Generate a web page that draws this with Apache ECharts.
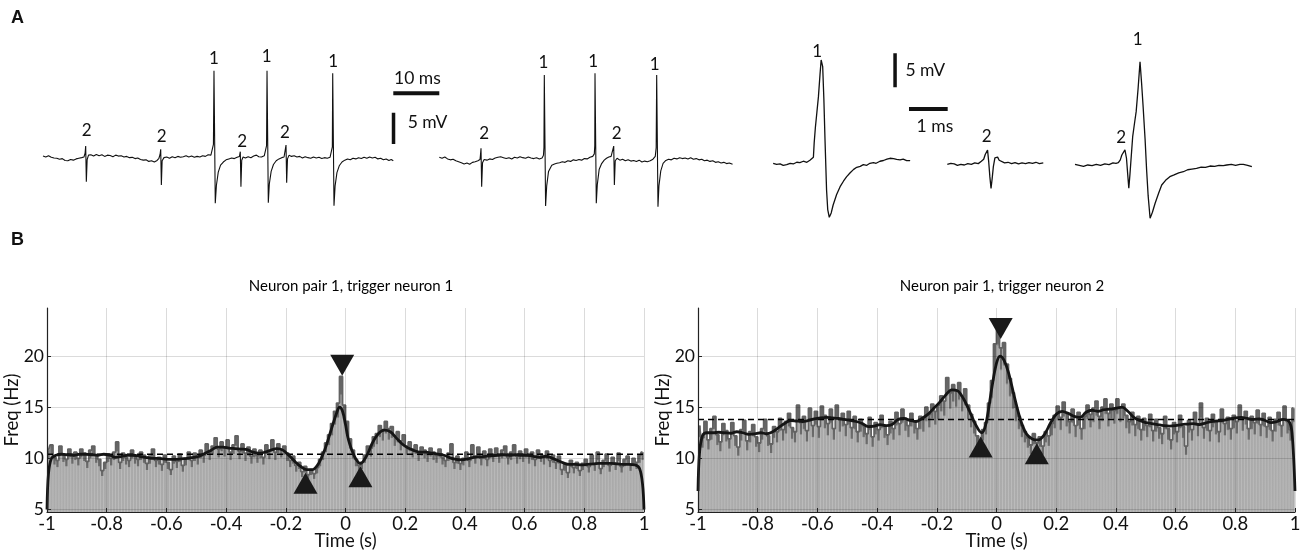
<!DOCTYPE html>
<html><head><meta charset="utf-8">
<script src="https://cdn.jsdelivr.net/npm/echarts@6/dist/echarts.min.js"></script>
<style>html,body{margin:0;padding:0;background:#fff}#c{width:1300px;height:558px}</style>
</head><body><div id="c"></div>
<script>
// ---------- Panel A: raw trace (time ms, voltage mV) ----------
const trace1 = [[0.0,0.15],[0.6,0.0],[1.2,0.2],[1.8,-0.05],[2.4,-0.15],[3.0,-0.2],[3.6,-0.35],[4.2,-0.25],[4.8,-0.55],[5.4,-0.6],[6.0,-0.4],[6.6,-0.5],[7.2,-0.3],[7.8,-0.2],[8.4,-0.1],[8.9,0.0],
[9.15,0.6],[9.28,1.75],[9.42,-3.94],[9.6,-0.4],[9.9,0.3],
[10.4,0.35],[11.0,0.15],[11.6,0.4],[12.2,0.2],[12.8,0.35],[13.4,0.1],[14.0,0.3],[14.6,0.25],[15.2,0.05],[15.8,0.3],[16.4,0.15],[17.0,0.2],[17.6,0.0],[18.2,0.1],[18.8,-0.1],[19.4,-0.05],[20.0,-0.25],[20.6,-0.15],[21.2,-0.4],[21.8,-0.5],[22.4,-0.45],[23.0,-0.7],[23.6,-0.6],[24.2,-0.8],[24.8,-0.55],[25.2,-0.2],
[25.45,0.4],[25.59,1.23],[25.73,-4.47],[25.9,-0.6],[26.3,-0.1],
[26.9,0.0],[27.5,-0.2],[28.1,0.05],[28.7,-0.1],[29.3,0.1],[29.9,-0.05],[30.5,0.05],[31.1,0.2],[31.7,0.0],[32.3,0.15],[32.9,-0.05],[33.5,0.1],[34.1,0.0],[34.7,0.2],[35.3,0.1],[35.9,0.35],[36.5,0.3],[36.9,0.5],
[37.05,2.0],[37.17,13.76],[37.45,-7.38],[37.7,-4.5],[38.1,-2.4],[38.6,-1.3],[39.2,-0.8],[39.8,-0.45],[40.4,-0.3],[41.0,-0.15],[41.6,-0.25],[42.2,-0.05],[42.7,0.1],
[42.89,0.85],[43.03,-4.74],[43.2,-0.5],[43.5,0.0],
[44.0,-0.15],[44.6,0.05],[45.2,-0.1],[45.8,0.15],[46.4,0.3],[46.9,0.05],[47.5,0.0],[48.1,0.2],[48.5,0.4],
[48.6,1.8],[48.7,13.76],[48.98,-7.29],[49.2,-4.3],[49.6,-2.3],[50.1,-1.2],[50.7,-0.6],[51.3,-0.3],[51.9,-0.1],[52.4,0.0],[52.7,0.3],
[52.83,1.91],[52.97,-4.1],[53.15,-0.3],[53.5,0.3],
[54.0,0.1],[54.6,0.2],[55.2,0.0],[55.8,0.1],[56.4,-0.15],[57.0,0.05],[57.6,-0.1],[58.2,-0.2],[58.8,0.0],[59.4,-0.15],[60.0,-0.05],[60.6,-0.25],[61.2,-0.1],[61.8,-0.2],[62.4,-0.05],[62.8,0.2],
[62.9,1.6],[62.98,13.35],[63.26,-7.77],[63.5,-4.6],[63.9,-2.5],[64.4,-1.4],[65.0,-0.8],[65.6,-0.5],[66.2,-0.3],[66.8,-0.45],[67.4,-0.2],[68.0,-0.3],[68.6,-0.1],[69.2,-0.25],[69.8,-0.05],[70.4,-0.2],[71.0,0.0],[71.6,-0.15],[72.2,-0.05],[72.8,-0.3],[73.4,-0.2],[74.0,-0.45],[74.6,-0.3],[75.2,-0.55],[75.7,-0.4],[76.15,-0.6]];

const trace2 = [[86.15,-0.05],[86.75,-0.2],[87.35,0.0],[87.95,-0.3],[88.55,-0.45],[89.15,-0.35],[89.75,-0.6],[90.35,-0.75],[90.95,-0.9],[91.55,-1.1],[92.15,-0.95],[92.75,-1.15],[93.35,-0.85],[93.95,-0.75],[94.55,-0.6],[95.0,-0.4],
[95.1,0.3],[95.22,1.39],[95.36,-4.74],[95.55,-0.9],[95.9,-0.4],
[96.5,-0.5],[97.1,-0.3],[97.7,-0.4],[98.3,-0.15],[98.9,-0.05],[99.5,0.05],[100.1,-0.1],[100.7,-0.25],[101.3,-0.1],[101.9,-0.3],[102.5,-0.05],[103.1,-0.15],[103.7,0.05],[104.3,-0.1],[104.9,-0.2],[105.5,0.0],[106.1,-0.15],[106.7,-0.25],[107.3,-0.1],[107.9,-0.3],[108.5,-0.15],[108.8,0.3],
[108.9,1.5],[108.98,13.08],[109.26,-7.81],[109.5,-4.6],[109.9,-2.3],[110.6,-1.3],[111.2,-1.1],[111.7,-1.0],[112.3,-0.9],[112.9,-0.75],[113.5,-0.85],[114.1,-0.6],[114.7,-0.7],[115.3,-0.45],[115.9,-0.55],[116.5,-0.4],[117.1,-0.5],[117.7,-0.25],[118.3,-0.3],[118.9,-0.05],[119.5,0.1],[119.85,0.5],
[119.95,1.8],[120.0,13.35],[120.28,-7.38],[120.5,-4.4],[120.9,-2.0],[121.4,-1.1],[122.0,-0.5],[122.5,-0.2],[123.0,0.0],[123.5,0.1],[123.9,0.3],
[124.07,1.75],[124.21,-4.47],[124.4,-0.6],[124.8,-0.2],
[125.4,-0.5],[126.0,-0.35],[126.6,-0.6],[127.2,-0.45],[127.8,-0.65],[128.4,-0.55],[129.0,-0.7],[129.6,-0.5],[130.2,-0.8],[130.8,-0.65],[131.4,-0.75],[132.0,-0.6],[132.6,-0.35],[133.1,0.1],
[133.3,1.5],[133.41,13.08],[133.69,-7.93],[133.9,-4.6],[134.3,-2.2],[134.8,-1.0],[135.4,-0.55],[136.0,-0.35],[136.6,-0.45],[137.2,-0.2],[137.8,-0.3],[138.4,-0.1],[139.0,-0.25],[139.6,-0.15],[140.2,-0.3],[140.8,-0.1],[141.4,-0.35],[142.0,-0.25],[142.6,-0.45],[143.2,-0.35],[143.8,-0.6],[144.4,-0.5],[145.0,-0.7],[145.6,-0.6],[146.2,-0.85],[146.8,-0.75],[147.4,-0.95],[148.0,-0.85],[148.6,-1.05],[149.2,-0.95],[149.9,-1.15]];

const traceLabels = [[9.5,4.19,'2'],[25.8,3.35,'2'],[37.17,15.74,'1'],[43.3,2.44,'2'],[48.6,16.1,'1'],[52.6,3.88,'2'],[63.1,15.2,'1'],
[95.9,3.78,'2'],[108.8,15.04,'1'],[119.6,15.2,'1'],[124.7,3.78,'2'],[133.0,14.83,'1']];
const traceTimeBar = [[76.15,10.16],[86.15,10.16]];   // 10 ms
const traceVoltBar = [[76.2,2.07],[76.2,7.07]];       // 5 mV
const traceBarText = [[81.4,12.5,'10 ms'],[83.6,5.47,'5 mV']];

// ---------- Panel A: spike waveforms (time ms, voltage mV) ----------
const wave1 = [[0.34,0.0],[0.43,-0.15],[0.52,-0.1],[0.6,-0.3],[0.69,-0.2],[0.78,0.0],[0.86,-0.1],[0.95,0.15],[1.03,0.1],[1.12,0.3],[1.21,0.15],[1.29,0.45],[1.34,0.6],[1.38,0.9],[1.4,3.0],[1.43,5.2],[1.47,7.5],[1.51,9.8],[1.55,13.0],[1.58,15.19],[1.62,14.2],[1.65,9.5],[1.68,3.43],[1.72,-3.93],[1.75,-6.8],[1.79,-7.94],[1.84,-7.3],[1.89,-6.13],[1.98,-4.6],[2.07,-3.44],[2.16,-2.6],[2.24,-1.97],[2.33,-1.4],[2.42,-0.9],[2.5,-0.59],[2.59,-0.45],[2.67,-0.2],[2.76,-0.3],[2.84,0.0],[2.93,0.1],[3.0,0.0],[3.1,0.3],[3.19,0.41],[3.28,0.6],[3.36,0.74],[3.45,0.7],[3.53,0.56],[3.62,0.49],[3.7,0.6],[3.79,0.4],[3.88,0.38]];
const wave2 = [[4.84,-0.15],[4.93,0.0],[5.02,-0.1],[5.1,-0.3],[5.19,-0.15],[5.28,-0.25],[5.37,-0.05],[5.46,-0.15],[5.55,0.05],[5.64,-0.05],[5.72,0.3],[5.78,0.6],[5.82,1.3],[5.88,1.96],[5.91,0.2],[5.94,-2.0],[5.97,-3.68],[6.0,-2.2],[6.03,-0.5],[6.07,0.8],[6.1,1.07],[6.14,0.9],[6.18,0.45],[6.23,0.2],[6.32,0.05],[6.41,0.15],[6.5,-0.05],[6.59,0.1],[6.68,-0.1],[6.77,0.05],[6.86,-0.05],[6.95,0.1],[7.04,0.0],[7.13,0.15],[7.22,-0.05],[7.32,0.05]];
const wave3 = [[8.14,-0.15],[8.25,-0.3],[8.36,-0.45],[8.47,-0.25],[8.58,-0.35],[8.69,-0.15],[8.8,-0.3],[8.91,-0.1],[9.02,-0.2],[9.12,0.05],[9.2,0.0],[9.26,0.09],[9.31,0.5],[9.35,1.22],[9.39,1.1],[9.43,1.96],[9.47,0.74],[9.5,-1.5],[9.53,-3.68],[9.56,-1.6],[9.58,0.0],[9.63,3.91],[9.68,6.0],[9.72,7.59],[9.77,11.0],[9.82,14.94],[9.86,11.8],[9.9,8.32],[9.95,3.6],[9.99,-0.99],[10.03,-4.8],[10.08,-8.09],[10.14,-7.2],[10.21,-5.88],[10.3,-4.4],[10.38,-3.19],[10.48,-2.5],[10.59,-1.97],[10.7,-1.7],[10.82,-1.4],[10.94,-1.24],[11.05,-0.95],[11.16,-0.85],[11.28,-0.74],[11.4,-0.55],[11.51,-0.6],[11.63,-0.4],[11.75,-0.45],[11.86,-0.3],[11.97,-0.35],[12.06,-0.25],[12.18,-0.15],[12.29,-0.3],[12.4,-0.15],[12.49,-0.15],[12.6,-0.3],[12.71,-0.5]];
const waveLabels = [[1.48,16.41,'1'],[5.86,4.01,'2'],[9.33,3.82,'2'],[9.76,18.13,'1']];
const waveVoltBar = [[3.49,11.18],[3.49,16.18]];  // 5 mV
const waveTimeBar = [[3.85,7.99],[4.85,7.99]];    // 1 ms
const waveBarText = [[4.27,13.72,'5 mV'],[4.52,5.49,'1 ms']];

// ---------- Panel B: cross-correlograms (0.01 s bins from -1 to 1) ----------
const binStart = -1, binWidth = 0.01;
const countsLeft = [
10.8,11.3,10.1,9.8,11.2,10.4,9.9,10.9,10.2,10.6,
10.0,10.9,10.5,9.7,10.8,11.2,10.3,9.9,8.8,9.6,
10.4,10.0,10.6,11.6,9.6,10.5,10.1,9.8,10.8,10.2,
9.9,10.6,10.3,9.5,10.2,10.9,9.8,10.1,9.4,10.3,
9.6,8.9,10.2,9.7,10.4,9.3,10.0,10.6,9.8,10.5,
10.1,10.8,10.3,11.4,10.6,11.2,12.0,10.9,11.6,11.0,
11.8,10.6,11.3,12.2,10.7,11.4,10.5,11.1,10.2,10.9,
10.3,10.8,10.1,11.3,10.7,11.8,10.6,11.4,10.9,11.2,
10.5,9.8,10.2,9.3,9.6,8.7,9.2,8.4,8.9,8.5,
9.1,9.9,10.6,11.5,12.3,13.4,14.6,15.4,18.0,15.2,
13.6,11.9,10.8,9.9,9.3,9.6,10.3,11.2,11.0,12.1,
12.4,13.2,12.8,13.6,12.9,13.1,12.2,12.6,11.7,12.3,
11.2,11.6,10.9,11.3,10.5,11.1,10.8,10.4,11.0,10.6,
10.3,10.9,10.1,9.8,10.5,11.4,9.6,10.2,9.5,10.0,
10.6,9.8,11.3,10.2,11.1,10.0,10.7,9.9,10.9,10.4,
11.0,10.3,10.8,11.2,10.1,10.6,11.3,10.2,10.7,10.4,
10.9,10.2,10.6,9.9,10.8,10.4,10.1,10.7,9.8,10.3,
9.6,10.2,8.9,9.4,8.6,9.8,9.1,9.6,8.8,9.5,
9.9,9.2,10.3,9.4,10.6,9.0,9.8,10.4,9.3,10.1,
9.5,10.5,9.2,9.9,10.2,9.4,10.0,9.6,10.3,10.6];
const countsRight = [
13.2,12.0,13.6,11.8,12.9,14.1,12.3,11.6,13.4,12.7,
11.9,13.5,12.2,11.1,12.8,13.7,11.7,12.6,13.3,12.1,
11.5,12.9,13.8,12.2,11.4,13.1,12.6,13.9,12.8,13.6,
14.4,13.0,12.6,15.2,13.5,14.1,12.7,14.9,13.2,14.6,
13.1,15.1,14.2,13.4,14.8,12.9,15.2,13.8,14.4,13.3,
14.6,13.0,14.1,12.6,13.8,13.2,12.4,14.0,12.1,13.5,
12.8,14.2,13.1,12.3,13.6,12.9,14.5,13.4,14.8,13.9,
13.2,14.4,13.6,12.9,14.1,13.8,15.0,14.3,15.3,14.6,
15.2,16.1,15.6,17.9,16.4,17.2,16.6,17.4,16.1,16.8,
15.2,14.3,13.6,12.2,11.6,12.8,13.5,15.4,17.6,21.2,
23.6,20.8,21.3,19.2,17.8,16.4,15.0,14.1,13.2,12.6,
12.0,11.3,12.4,11.5,12.1,11.2,12.6,12.2,13.4,14.2,
15.1,14.0,15.5,14.4,13.6,14.8,13.2,14.5,12.9,14.1,
15.2,14.3,14.9,15.6,14.1,15.0,15.8,14.4,15.3,14.7,
15.8,14.9,15.3,14.2,13.6,14.5,13.3,14.1,12.8,13.9,
13.2,14.3,12.7,13.8,13.0,12.4,14.1,12.9,11.8,13.5,
12.6,14.2,13.1,11.2,13.7,12.8,14.5,13.3,15.4,13.0,
13.9,12.7,14.3,13.5,12.6,14.8,13.4,14.0,12.9,14.2,
13.6,15.2,13.9,14.6,12.9,14.1,13.5,14.7,13.3,14.4,
13.1,14.0,12.7,13.8,14.5,13.2,15.1,13.6,12.8,14.9];
const smoothLeft = [[-1,5.0],[-0.995,8.5],[-0.985,10.0],[-0.97,10.3],[-0.95,10.4],[-0.93,10.35],[-0.91,10.3],[-0.89,10.4],[-0.87,10.4],[-0.85,10.35],[-0.83,10.3],[-0.81,10.4],[-0.79,10.3],[-0.77,10.1],[-0.75,10.2],[-0.73,10.3],[-0.71,10.3],[-0.69,10.2],[-0.67,10.1],[-0.65,10.0],[-0.63,10.0],[-0.61,9.95],[-0.59,9.9],[-0.57,9.9],[-0.55,9.95],[-0.53,10.0],[-0.51,10.1],[-0.49,10.2],[-0.47,10.5],[-0.45,10.8],[-0.43,11.1],[-0.41,11.1],[-0.39,11.0],[-0.37,10.95],[-0.35,10.9],[-0.33,10.85],[-0.31,10.6],[-0.29,10.5],[-0.27,10.6],[-0.25,10.8],[-0.23,10.95],[-0.21,10.8],[-0.19,10.3],[-0.17,9.7],[-0.15,9.2],[-0.13,8.9],[-0.11,8.9],[-0.09,9.5],[-0.07,10.8],[-0.05,12.6],[-0.03,14.4],[-0.02,15.0],[-0.01,14.6],[0.0,13.3],[0.01,11.8],[0.03,10.2],[0.05,9.5],[0.07,10.2],[0.09,11.5],[0.11,12.4],[0.13,12.75],[0.15,12.6],[0.17,12.0],[0.19,11.4],[0.21,11.0],[0.23,10.75],[0.25,10.6],[0.27,10.6],[0.29,10.5],[0.31,10.4],[0.33,10.3],[0.35,10.05],[0.37,9.9],[0.39,9.85],[0.41,9.95],[0.43,10.1],[0.45,10.15],[0.47,10.2],[0.49,10.25],[0.51,10.3],[0.53,10.35],[0.55,10.3],[0.57,10.35],[0.59,10.3],[0.61,10.3],[0.63,10.2],[0.65,10.1],[0.67,10.2],[0.69,10.05],[0.71,9.8],[0.73,9.55],[0.75,9.4],[0.77,9.4],[0.79,9.35],[0.81,9.4],[0.83,9.45],[0.85,9.5],[0.87,9.5],[0.89,9.5],[0.91,9.45],[0.93,9.4],[0.95,9.4],[0.97,9.35],[0.985,9.0],[0.995,7.5],[1.0,5.0]];
const smoothRight = [[-1,6.8],[-0.995,10.5],[-0.985,12.2],[-0.97,12.5],[-0.95,12.5],[-0.93,12.55],[-0.91,12.5],[-0.89,12.45],[-0.87,12.6],[-0.85,12.5],[-0.83,12.35],[-0.81,12.4],[-0.79,12.5],[-0.77,12.4],[-0.75,12.6],[-0.73,13.0],[-0.71,13.4],[-0.69,13.7],[-0.67,13.65],[-0.65,13.6],[-0.63,13.7],[-0.61,13.85],[-0.59,13.95],[-0.57,14.0],[-0.55,13.95],[-0.53,13.9],[-0.51,13.8],[-0.49,13.7],[-0.47,13.6],[-0.45,13.4],[-0.43,13.1],[-0.41,13.15],[-0.39,13.3],[-0.37,13.2],[-0.35,13.3],[-0.33,13.8],[-0.31,13.9],[-0.29,13.7],[-0.27,13.6],[-0.25,13.9],[-0.23,14.3],[-0.21,14.9],[-0.19,15.5],[-0.17,16.2],[-0.15,16.7],[-0.13,16.6],[-0.11,15.8],[-0.09,14.6],[-0.07,13.3],[-0.05,12.5],[-0.04,12.9],[-0.03,14.2],[-0.015,17.0],[0.0,19.3],[0.012,20.0],[0.025,19.6],[0.04,18.4],[0.06,16.0],[0.08,13.8],[0.1,12.4],[0.12,11.9],[0.14,11.8],[0.16,12.3],[0.18,13.4],[0.2,14.3],[0.22,14.6],[0.24,14.4],[0.26,14.1],[0.28,14.0],[0.3,14.5],[0.32,14.7],[0.34,14.6],[0.36,14.75],[0.38,14.8],[0.4,14.9],[0.42,15.0],[0.44,14.6],[0.46,14.0],[0.48,13.7],[0.5,13.5],[0.52,13.4],[0.54,13.3],[0.56,13.2],[0.58,13.15],[0.6,13.2],[0.62,13.3],[0.64,13.35],[0.66,13.4],[0.68,13.3],[0.7,13.45],[0.72,13.6],[0.74,13.65],[0.76,13.7],[0.78,13.85],[0.8,13.95],[0.82,14.0],[0.84,13.9],[0.86,13.8],[0.88,13.85],[0.9,13.7],[0.92,13.5],[0.94,13.6],[0.96,13.8],[0.98,13.6],[0.99,12.5],[1.0,6.8]];
const meanLeft = 10.4, meanRight = 13.8;
const trianglesLeft = [[-0.011,19.1,'down'],[-0.134,7.56,'up'],[0.05,8.2,'up']];
const trianglesRight = [[0.014,22.7,'down'],[-0.053,11.1,'up'],[0.135,10.45,'up']];
const yTicks = [5,10,15,20];
const titles = ['Neuron pair 1, trigger neuron 1','Neuron pair 1, trigger neuron 2'];

// ---------- build ----------
const FONT = 'Lato';
const AX = 18.5;
const toBins = arr => arr.map((v,i)=>[+(binStart + binWidth*(i+0.5)).toFixed(3), v]);

function textSeries(data, xi, yi, size){
  return {type:'scatter', xAxisIndex:xi, yAxisIndex:yi, symbolSize:0, silent:true, z:20,
    itemStyle:{opacity:1},
    data:data.map(d=>({value:[d[0],d[1]], name:d[2]})),
    label:{show:true, position:'inside', formatter:'{b}', color:'#111', fontSize:size, fontFamily:FONT}};
}
function lineSeries(data, xi, yi, w){
  return {type:'line', xAxisIndex:xi, yAxisIndex:yi, data, symbol:'none', silent:true,
    lineStyle:{color:'#111', width:w}, z:10};
}
const barFill = {type:'linear', x:0, y:0, x2:0, y2:1, colorStops:[
  {offset:0, color:'#646464'}, {offset:0.125, color:'#6c6c6c'}, {offset:0.14, color:'#a9a9a9'}, {offset:1, color:'#acacac'}]};
function histSeries(counts, smooth, mean, tris, xi, yi){
  const bins = toBins(counts);
  return [
    {type:'line', xAxisIndex:xi, yAxisIndex:yi, step:'middle', data:bins, symbol:'none', silent:true,
      lineStyle:{width:0, opacity:0}, areaStyle:{color:'#c4c4c4', origin:'start', opacity:1}, z:1},
    {type:'bar', xAxisIndex:xi, yAxisIndex:yi, data:bins, barWidth:2.4, silent:true,
      itemStyle:{color:barFill}, z:2},
    {type:'line', xAxisIndex:xi, yAxisIndex:yi, step:'middle', data:bins, symbol:'none', silent:true,
      lineStyle:{color:'#626262', width:1.8}, z:3},
    {type:'line', xAxisIndex:xi, yAxisIndex:yi, data:[[-1,mean],[1,mean]], symbol:'none', silent:true,
      lineStyle:{color:'#000', width:1.5, type:[6,4]}, z:4},
    {type:'line', xAxisIndex:xi, yAxisIndex:yi, data:smooth, smooth:0.35, symbol:'none', silent:true,
      lineStyle:{color:'#151515', width:2.8}, z:5},
    {type:'scatter', xAxisIndex:xi, yAxisIndex:yi, symbol:'triangle', symbolSize:[24,21], silent:true,
      data:tris.map(d=>({value:[d[0],d[1]], symbolRotate: d[2]==='down'?180:0})),
      itemStyle:{color:'#1a1a1a', opacity:1}, z:12}
  ];
}
function histX(gi){
  return {gridIndex:gi, type:'value', min:-1, max:1, interval:0.2, z:10,
    name:'Time (s)', nameLocation:'middle', nameGap:19.5, nameMoveOverlap:false,
    nameTextStyle:{fontSize:AX, color:'#111', fontFamily:FONT},
    axisLine:{show:true, onZero:false, lineStyle:{color:'#222', width:1.2}},
    axisTick:{show:true, inside:true, length:4, lineStyle:{color:'#222'}},
    axisLabel:{fontSize:AX, color:'#111', margin:3, fontFamily:FONT},
    splitLine:{show:true, lineStyle:{color:'rgba(0,0,0,0.14)', width:1}}};
}
function histY(gi){
  return {gridIndex:gi, type:'value', min:4.75, max:24.7, z:10,
    name:'Freq (Hz)', nameLocation:'middle', nameGap:25, nameMoveOverlap:false,
    nameTextStyle:{fontSize:AX, color:'#111', fontFamily:FONT},
    axisLine:{show:true, onZero:false, lineStyle:{color:'#222', width:1.2}},
    axisTick:{show:true, inside:true, length:4, customValues:yTicks, lineStyle:{color:'#222'}},
    axisLabel:{fontSize:17.5, color:'#111', margin:3, fontFamily:FONT, customValues:yTicks},
    splitLine:{show:true, lineStyle:{color:'rgba(0,0,0,0.14)', width:1}}};
}

const option = {
  animation:false,
  backgroundColor:'#fff',
  title: titles.map((t,i)=>({text:t, left: i===0?346:997, top:274, textAlign:'center',
    textStyle:{fontSize:15, fontWeight:'normal', color:'#000', fontFamily:FONT}})),
  graphic:[
    {type:'text', left:11, top:9, style:{text:'A', font:'bold 18px "Liberation Sans", Arial', fill:'#111'}},
    {type:'text', left:11, top:231, style:{text:'B', font:'bold 18px "Liberation Sans", Arial', fill:'#111'}}
  ],
  grid:[
    {left:43, top:30, width:690, height:200, outerBoundsMode:'none'},
    {left:760, top:30, width:500, height:200, outerBoundsMode:'none'},
    {left:47, top:308, width:597, height:204, outerBoundsMode:'none'},
    {left:698, top:308, width:597, height:204, outerBoundsMode:'none'}
  ],
  xAxis:[
    {gridIndex:0, type:'value', min:0, max:150, show:false},
    {gridIndex:1, type:'value', min:0, max:12.92, show:false},
    histX(2), histX(3)
  ],
  yAxis:[
    {gridIndex:0, type:'value', min:-11.64, max:20.26, show:false},
    {gridIndex:1, type:'value', min:-9.81, max:19.6, show:false},
    histY(2), histY(3)
  ],
  series:[
    lineSeries(trace1,0,0,1.1),
    lineSeries(trace2,0,0,1.1),
    lineSeries(traceTimeBar,0,0,4),
    lineSeries(traceVoltBar,0,0,3.5),
    textSeries(traceLabels,0,0,17),
    textSeries(traceBarText,0,0,17.5),
    lineSeries(wave1,1,1,1.3),
    lineSeries(wave2,1,1,1.3),
    lineSeries(wave3,1,1,1.3),
    lineSeries(waveVoltBar,1,1,3.5),
    lineSeries(waveTimeBar,1,1,4),
    textSeries(waveLabels,1,1,17),
    textSeries(waveBarText,1,1,17.5),
    ...histSeries(countsLeft, smoothLeft, meanLeft, trianglesLeft, 2, 2),
    ...histSeries(countsRight, smoothRight, meanRight, trianglesRight, 3, 3)
  ]
};
const chart = echarts.init(document.getElementById('c'));
chart.setOption(option);
</script>
</body></html>
